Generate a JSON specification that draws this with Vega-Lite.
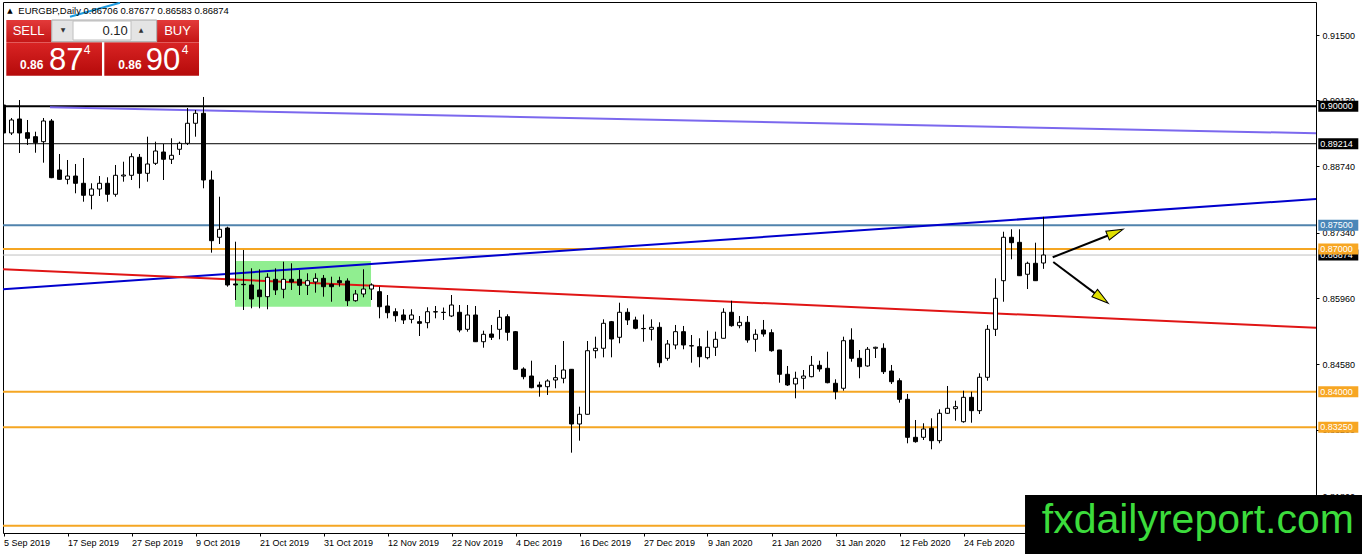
{
  "$schema": "https://vega.github.io/schema/vega-lite/v6.json",
  "width": 1313,
  "height": 531,
  "autosize": {"type": "none"},
  "padding": {"left": 3, "top": 2, "right": 46, "bottom": 21},
  "background": "white",
  "datasets": {
    "candles": [
      {"i":0,"o":0.90028,"h":0.90239,"l":0.89334,"c":0.89440},
      {"i":1,"o":0.89440,"h":0.89755,"l":0.89397,"c":0.89713},
      {"i":2,"o":0.89734,"h":0.90133,"l":0.89019,"c":0.89440},
      {"i":3,"o":0.89446,"h":0.89713,"l":0.89187,"c":0.89328},
      {"i":4,"o":0.89362,"h":0.89467,"l":0.89025,"c":0.89236},
      {"i":5,"o":0.89257,"h":0.89755,"l":0.88815,"c":0.89692},
      {"i":6,"o":0.89692,"h":0.89734,"l":0.88490,"c":0.88500},
      {"i":7,"o":0.88662,"h":0.88998,"l":0.88460,"c":0.88466},
      {"i":8,"o":0.88466,"h":0.88872,"l":0.88361,"c":0.88535},
      {"i":9,"o":0.88535,"h":0.88788,"l":0.88172,"c":0.88382},
      {"i":10,"o":0.88382,"h":0.88914,"l":0.87995,"c":0.88130},
      {"i":11,"o":0.88130,"h":0.88382,"l":0.87835,"c":0.88262},
      {"i":12,"o":0.88262,"h":0.88535,"l":0.88115,"c":0.88382},
      {"i":13,"o":0.88382,"h":0.88508,"l":0.87995,"c":0.88151},
      {"i":14,"o":0.88151,"h":0.88767,"l":0.88100,"c":0.88550},
      {"i":15,"o":0.88535,"h":0.88836,"l":0.88416,"c":0.88556},
      {"i":16,"o":0.88550,"h":0.89013,"l":0.88451,"c":0.88941},
      {"i":17,"o":0.88929,"h":0.88998,"l":0.88277,"c":0.88592},
      {"i":18,"o":0.88592,"h":0.89362,"l":0.88416,"c":0.88788},
      {"i":19,"o":0.88802,"h":0.89257,"l":0.88767,"c":0.89061},
      {"i":20,"o":0.89040,"h":0.89208,"l":0.88451,"c":0.88887},
      {"i":21,"o":0.88887,"h":0.89328,"l":0.88788,"c":0.88971},
      {"i":22,"o":0.89097,"h":0.89257,"l":0.88977,"c":0.89223},
      {"i":23,"o":0.89223,"h":0.89965,"l":0.89187,"c":0.89644},
      {"i":24,"o":0.89644,"h":0.89923,"l":0.89362,"c":0.89854},
      {"i":25,"o":0.89854,"h":0.90197,"l":0.88277,"c":0.88451},
      {"i":26,"o":0.88451,"h":0.88647,"l":0.86923,"c":0.87175},
      {"i":27,"o":0.87247,"h":0.88100,"l":0.87106,"c":0.87415},
      {"i":28,"o":0.87442,"h":0.87469,"l":0.86208,"c":0.86244},
      {"i":29,"o":0.86265,"h":0.87154,"l":0.85928,"c":0.86244},
      {"i":30,"o":0.86258,"h":0.86980,"l":0.85718,"c":0.86250},
      {"i":31,"o":0.86244,"h":0.86595,"l":0.85754,"c":0.85949},
      {"i":32,"o":0.86139,"h":0.86574,"l":0.85754,"c":0.85998},
      {"i":33,"o":0.85998,"h":0.86490,"l":0.85733,"c":0.86406},
      {"i":34,"o":0.86363,"h":0.86595,"l":0.86033,"c":0.86139},
      {"i":35,"o":0.86153,"h":0.86734,"l":0.85964,"c":0.86363},
      {"i":36,"o":0.86363,"h":0.86700,"l":0.86139,"c":0.86307},
      {"i":37,"o":0.86363,"h":0.86559,"l":0.86033,"c":0.86237},
      {"i":38,"o":0.86237,"h":0.86490,"l":0.86033,"c":0.86334},
      {"i":39,"o":0.86307,"h":0.86490,"l":0.86082,"c":0.86384},
      {"i":40,"o":0.86384,"h":0.86454,"l":0.85998,"c":0.86208},
      {"i":41,"o":0.86258,"h":0.86418,"l":0.85892,"c":0.86208},
      {"i":42,"o":0.86334,"h":0.86418,"l":0.86208,"c":0.86292},
      {"i":43,"o":0.86328,"h":0.86384,"l":0.85802,"c":0.85913},
      {"i":44,"o":0.85913,"h":0.86139,"l":0.85892,"c":0.86054},
      {"i":45,"o":0.86054,"h":0.86574,"l":0.85985,"c":0.86159},
      {"i":46,"o":0.86159,"h":0.86279,"l":0.85928,"c":0.86244},
      {"i":47,"o":0.86103,"h":0.86208,"l":0.85543,"c":0.85787},
      {"i":48,"o":0.85802,"h":0.86033,"l":0.85543,"c":0.85661},
      {"i":49,"o":0.85682,"h":0.85754,"l":0.85472,"c":0.85598},
      {"i":50,"o":0.85613,"h":0.85733,"l":0.85424,"c":0.85508},
      {"i":51,"o":0.85522,"h":0.85733,"l":0.85438,"c":0.85613},
      {"i":52,"o":0.85472,"h":0.85592,"l":0.85171,"c":0.85438},
      {"i":53,"o":0.85451,"h":0.85775,"l":0.85333,"c":0.85682},
      {"i":54,"o":0.85682,"h":0.85802,"l":0.85543,"c":0.85676},
      {"i":55,"o":0.85665,"h":0.85770,"l":0.85508,"c":0.85670},
      {"i":56,"o":0.85592,"h":0.86033,"l":0.85570,"c":0.85823},
      {"i":57,"o":0.85670,"h":0.85823,"l":0.85250,"c":0.85297},
      {"i":58,"o":0.85312,"h":0.85823,"l":0.85262,"c":0.85613},
      {"i":59,"o":0.85613,"h":0.85802,"l":0.85045,"c":0.85051},
      {"i":60,"o":0.85051,"h":0.85283,"l":0.84925,"c":0.85207},
      {"i":61,"o":0.85213,"h":0.85403,"l":0.85087,"c":0.85144},
      {"i":62,"o":0.85312,"h":0.85718,"l":0.85102,"c":0.85565},
      {"i":63,"o":0.85577,"h":0.85628,"l":0.85072,"c":0.85249},
      {"i":64,"o":0.85262,"h":0.85276,"l":0.84456,"c":0.84471},
      {"i":65,"o":0.84477,"h":0.84513,"l":0.84261,"c":0.84316},
      {"i":66,"o":0.84330,"h":0.84652,"l":0.84072,"c":0.84084},
      {"i":67,"o":0.84141,"h":0.84210,"l":0.83895,"c":0.84105},
      {"i":68,"o":0.84105,"h":0.84261,"l":0.83931,"c":0.84225},
      {"i":69,"o":0.84246,"h":0.84562,"l":0.84072,"c":0.84295},
      {"i":70,"o":0.84282,"h":0.85066,"l":0.84177,"c":0.84456},
      {"i":71,"o":0.84471,"h":0.84477,"l":0.82718,"c":0.83321},
      {"i":72,"o":0.83321,"h":0.83685,"l":0.82970,"c":0.83525},
      {"i":73,"o":0.83525,"h":0.85066,"l":0.83520,"c":0.84862},
      {"i":74,"o":0.84862,"h":0.85157,"l":0.84702,"c":0.84913},
      {"i":75,"o":0.84913,"h":0.85522,"l":0.84723,"c":0.85438},
      {"i":76,"o":0.85472,"h":0.85487,"l":0.84723,"c":0.85108},
      {"i":77,"o":0.85144,"h":0.85871,"l":0.85018,"c":0.85670},
      {"i":78,"o":0.85670,"h":0.85754,"l":0.85403,"c":0.85508},
      {"i":79,"o":0.85508,"h":0.85577,"l":0.85312,"c":0.85333},
      {"i":80,"o":0.85330,"h":0.85623,"l":0.85051,"c":0.85325},
      {"i":81,"o":0.85312,"h":0.85522,"l":0.85076,"c":0.85354},
      {"i":82,"o":0.85354,"h":0.85459,"l":0.84513,"c":0.84610},
      {"i":83,"o":0.84702,"h":0.85087,"l":0.84652,"c":0.85003},
      {"i":84,"o":0.84982,"h":0.85403,"l":0.84892,"c":0.85262},
      {"i":85,"o":0.85262,"h":0.85382,"l":0.84892,"c":0.84982},
      {"i":86,"o":0.84967,"h":0.85192,"l":0.84610,"c":0.84962},
      {"i":87,"o":0.84946,"h":0.85123,"l":0.84513,"c":0.84736},
      {"i":88,"o":0.84715,"h":0.85283,"l":0.84681,"c":0.84934},
      {"i":89,"o":0.84934,"h":0.85262,"l":0.84751,"c":0.85102},
      {"i":90,"o":0.85123,"h":0.85754,"l":0.85119,"c":0.85670},
      {"i":91,"o":0.85670,"h":0.85913,"l":0.85367,"c":0.85388},
      {"i":92,"o":0.85388,"h":0.85592,"l":0.85333,"c":0.85459},
      {"i":93,"o":0.85459,"h":0.85592,"l":0.85030,"c":0.85087},
      {"i":94,"o":0.85102,"h":0.85312,"l":0.84841,"c":0.85207},
      {"i":95,"o":0.85297,"h":0.85508,"l":0.85157,"c":0.85213},
      {"i":96,"o":0.85241,"h":0.85312,"l":0.84841,"c":0.84862},
      {"i":97,"o":0.84877,"h":0.84880,"l":0.84189,"c":0.84366},
      {"i":98,"o":0.84366,"h":0.84541,"l":0.84120,"c":0.84141},
      {"i":99,"o":0.84162,"h":0.84421,"l":0.83861,"c":0.84282},
      {"i":100,"o":0.84282,"h":0.84456,"l":0.84051,"c":0.84330},
      {"i":101,"o":0.84316,"h":0.84751,"l":0.84303,"c":0.84555},
      {"i":102,"o":0.84555,"h":0.84652,"l":0.84421,"c":0.84477},
      {"i":103,"o":0.84492,"h":0.84841,"l":0.84177,"c":0.84189},
      {"i":104,"o":0.84177,"h":0.84261,"l":0.83840,"c":0.84000},
      {"i":105,"o":0.84072,"h":0.85157,"l":0.84021,"c":0.85072},
      {"i":106,"o":0.85087,"h":0.85333,"l":0.84631,"c":0.84702},
      {"i":107,"o":0.84702,"h":0.84877,"l":0.84282,"c":0.84526},
      {"i":108,"o":0.84541,"h":0.84940,"l":0.84526,"c":0.84892},
      {"i":109,"o":0.84913,"h":0.84946,"l":0.84708,"c":0.84934},
      {"i":110,"o":0.84913,"h":0.85018,"l":0.84372,"c":0.84421},
      {"i":111,"o":0.84435,"h":0.84562,"l":0.84162,"c":0.84210},
      {"i":112,"o":0.84231,"h":0.84282,"l":0.83769,"c":0.83840},
      {"i":113,"o":0.83840,"h":0.83952,"l":0.82915,"c":0.83041},
      {"i":114,"o":0.83041,"h":0.83405,"l":0.82928,"c":0.82949},
      {"i":115,"o":0.83041,"h":0.83336,"l":0.82985,"c":0.83216},
      {"i":116,"o":0.83231,"h":0.83441,"l":0.82789,"c":0.82970},
      {"i":117,"o":0.82970,"h":0.83630,"l":0.82915,"c":0.83546},
      {"i":118,"o":0.83546,"h":0.84120,"l":0.83531,"c":0.83651},
      {"i":119,"o":0.83643,"h":0.83811,"l":0.83390,"c":0.83685},
      {"i":120,"o":0.83369,"h":0.84021,"l":0.83348,"c":0.83882},
      {"i":121,"o":0.83882,"h":0.84000,"l":0.83348,"c":0.83601},
      {"i":122,"o":0.83601,"h":0.84387,"l":0.83531,"c":0.84303},
      {"i":123,"o":0.84303,"h":0.85403,"l":0.84231,"c":0.85312},
      {"i":124,"o":0.85312,"h":0.86384,"l":0.85171,"c":0.85964},
      {"i":125,"o":0.86334,"h":0.87364,"l":0.85892,"c":0.87247},
      {"i":126,"o":0.87247,"h":0.87415,"l":0.86784,"c":0.87133},
      {"i":127,"o":0.87141,"h":0.87415,"l":0.86433,"c":0.86439},
      {"i":128,"o":0.86469,"h":0.86734,"l":0.86159,"c":0.86700},
      {"i":129,"o":0.86700,"h":0.87133,"l":0.86330,"c":0.86334},
      {"i":130,"o":0.86706,"h":0.87677,"l":0.86583,"c":0.86874}
    ],
    "levels": [
      {"p":0.90000,"g":"round"},
      {"p":0.89214,"g":"pivot"},
      {"p":0.87500,"g":"blue"},
      {"p":0.86874,"g":"bid"},
      {"p":0.87000,"g":"orange"},
      {"p":0.84000,"g":"orange"},
      {"p":0.83250,"g":"orange"},
      {"p":0.81180,"g":"orange"}
    ],
    "trend": [
      {"t":"blue","i":-0.0625,"p":0.86153},
      {"t":"blue","i":164.0625,"p":0.88052},
      {"t":"red","i":-0.0625,"p":0.86574},
      {"t":"red","i":164.0625,"p":0.85346},
      {"t":"purple","i":5.81,"p":0.89980},
      {"t":"purple","i":164.0625,"p":0.89433},
      {"t":"cyan","i":8.31,"p":0.91885},
      {"t":"cyan","i":14.56,"p":0.92179}
    ]
  },
  "layer": [
    {
      "data": {"values": [{}]},
      "mark": {"type": "rect", "color": "#90ee90"},
      "encoding": {
        "x": {"datum": 28.94, "type": "quantitative"},
        "x2": {"datum": 45.94},
        "y": {"datum": 0.86748, "type": "quantitative"},
        "y2": {"datum": 0.85787}
      }
    },
    {
      "data": {"name": "levels"},
      "encoding": {"y": {"field": "p", "type": "quantitative", "title": null}},
      "layer": [
        {"transform": [{"filter": "datum.g == 'round'"}], "mark": {"type": "rule", "color": "#000000", "strokeWidth": 2}},
        {"transform": [{"filter": "datum.g == 'pivot'"}], "mark": {"type": "rule", "color": "#000000", "strokeWidth": 1}},
        {"transform": [{"filter": "datum.g == 'blue'"}], "mark": {"type": "rule", "color": "#5083ad", "strokeWidth": 2}},
        {"transform": [{"filter": "datum.g == 'bid'"}], "mark": {"type": "rule", "color": "#c0c0c0", "strokeWidth": 1}},
        {"transform": [{"filter": "datum.g == 'orange'"}], "mark": {"type": "rule", "color": "#f5a623", "strokeWidth": 2}}
      ]
    },
    {
      "data": {"name": "trend"},
      "mark": {"type": "line", "strokeWidth": 2, "clip": true},
      "encoding": {
        "x": {"field": "i", "type": "quantitative", "title": null},
        "y": {"field": "p", "type": "quantitative", "title": null},
        "color": {"field": "t", "type": "nominal", "legend": null,
          "scale": {"domain": ["blue","red","purple","cyan"], "range": ["#0000cd","#e01515","#7b68ee","#1e9be0"]}}
      }
    },
    {
      "data": {"name": "candles"},
      "layer": [
        {
          "mark": {"type": "rule", "color": "black", "strokeWidth": 1, "clip": true},
          "encoding": {
            "x": {"field": "i", "type": "quantitative", "title": null,
              "scale": {"domain": [-0.0625, 164.0625], "nice": false, "zero": false, "padding": 0},
              "axis": {
                "values": [0,8,16,24,32,40,48,56,64,72,80,88,96,104,112,120],
                "labelExpr": "['5 Sep 2019','17 Sep 2019','27 Sep 2019','9 Oct 2019','21 Oct 2019','31 Oct 2019','12 Nov 2019','22 Nov 2019','4 Dec 2019','16 Dec 2019','27 Dec 2019','9 Jan 2020','21 Jan 2020','31 Jan 2020','12 Feb 2020','24 Feb 2020'][round(datum.value / 8)]",
                "labelAlign": "left", "labelBaseline": "top", "labelPadding": 2,
                "labelFlush": false, "labelOverlap": false, "title": null
              }},
            "y": {"field": "l", "type": "quantitative", "title": null,
              "scale": {"domain": [0.81029, 0.92194], "nice": false, "zero": false},
              "axis": {
                "orient": "right",
                "values": [0.915,0.9082,0.9013,0.8942,0.8874,0.8804,0.8734,0.8666,0.8596,0.8528,0.8458,0.8388,0.832,0.825,0.818],
                "format": ".5f", "labelPadding": 3, "labelBaseline": "middle",
                "labelFlush": false, "labelOverlap": false, "title": null
              }},
            "y2": {"field": "h"}
          }
        },
        {
          "mark": {"type": "bar", "size": 4, "stroke": "black", "strokeWidth": 1, "clip": true},
          "encoding": {
            "x": {"field": "i", "type": "quantitative", "title": null},
            "y": {"field": "o", "type": "quantitative", "title": null},
            "y2": {"field": "c"},
            "fill": {"condition": {"test": "datum.c >= datum.o", "value": "white"}, "value": "black"}
          }
        }
      ]
    },
    {
      "data": {"values": [{}]},
      "layer": [
        {
          "mark": {"type": "rule", "color": "black", "strokeWidth": 2},
          "encoding": {
            "x": {"datum": 131.15, "type": "quantitative"}, "x2": {"datum": 139.5},
            "y": {"datum": 0.86826, "type": "quantitative"}, "y2": {"datum": 0.87380}
          }
        },
        {
          "mark": {"type": "rule", "color": "black", "strokeWidth": 2},
          "encoding": {
            "x": {"datum": 131.22, "type": "quantitative"}, "x2": {"datum": 137.7},
            "y": {"datum": 0.86727, "type": "quantitative"}, "y2": {"datum": 0.85910}
          }
        },
        {
          "mark": {"type": "point", "shape": "M0,-1L0.55,1L-0.55,1Z", "size": 289, "angle": 68, "filled": true, "fill": "#e0e000", "stroke": "black", "strokeWidth": 1, "opacity": 1},
          "encoding": {
            "x": {"datum": 138.99, "type": "quantitative"},
            "y": {"datum": 0.87350, "type": "quantitative"}
          }
        },
        {
          "mark": {"type": "point", "shape": "M0,-1L0.55,1L-0.55,1Z", "size": 289, "angle": 127, "filled": true, "fill": "#e0e000", "stroke": "black", "strokeWidth": 1, "opacity": 1},
          "encoding": {
            "x": {"datum": 137.25, "type": "quantitative"},
            "y": {"datum": 0.85966, "type": "quantitative"}
          }
        }
      ]
    },
    {
      "data": {"values": [{}]},
      "layer": [
        {
          "mark": {"type": "text", "align": "center", "baseline": "alphabetic", "font": "DejaVu Sans", "fontSize": 7, "color": "black", "text": "▲"},
          "encoding": {"x": {"datum": 0.81, "type": "quantitative"}, "y": {"datum": 0.91963, "type": "quantitative"}}
        },
        {
          "mark": {"type": "text", "align": "left", "baseline": "alphabetic", "font": "Liberation Sans", "fontSize": 9.5, "color": "black", "text": "EURGBP,Daily 0.86706 0.87677 0.86583 0.86874"},
          "encoding": {"x": {"datum": 1.85, "type": "quantitative"}, "y": {"datum": 0.91942, "type": "quantitative"}}
        },
        {
          "mark": {"type": "rect", "color": {"gradient": "linear", "x1": 0, "y1": 0, "x2": 0, "y2": 1, "stops": [{"offset": 0, "color": "#e33a3a"}, {"offset": 1, "color": "#c41616"}]}},
          "encoding": {"x": {"datum": 0.35, "type": "quantitative"}, "x2": {"datum": 6.0}, "y": {"datum": 0.91815, "type": "quantitative"}, "y2": {"datum": 0.91353}}
        },
        {
          "mark": {"type": "rect", "color": {"gradient": "linear", "x1": 0, "y1": 0, "x2": 0, "y2": 1, "stops": [{"offset": 0, "color": "#e33a3a"}, {"offset": 1, "color": "#c41616"}]}},
          "encoding": {"x": {"datum": 19.15, "type": "quantitative"}, "x2": {"datum": 24.44}, "y": {"datum": 0.91815, "type": "quantitative"}, "y2": {"datum": 0.91353}}
        },
        {
          "mark": {"type": "rect", "color": {"gradient": "linear", "x1": 0, "y1": 0, "x2": 0, "y2": 1, "stops": [{"offset": 0, "color": "#d92424"}, {"offset": 1, "color": "#b50a0a"}]}},
          "encoding": {"x": {"datum": 0.35, "type": "quantitative"}, "x2": {"datum": 12.31}, "y": {"datum": 0.91347, "type": "quantitative"}, "y2": {"datum": 0.90644}}
        },
        {
          "mark": {"type": "rect", "color": {"gradient": "linear", "x1": 0, "y1": 0, "x2": 0, "y2": 1, "stops": [{"offset": 0, "color": "#d92424"}, {"offset": 1, "color": "#b50a0a"}]}},
          "encoding": {"x": {"datum": 12.6, "type": "quantitative"}, "x2": {"datum": 24.44}, "y": {"datum": 0.91347, "type": "quantitative"}, "y2": {"datum": 0.90644}}
        },
        {
          "mark": {"type": "rect", "fill": "#e4e4e4", "stroke": "#a8a8a8", "strokeWidth": 1},
          "encoding": {"x": {"datum": 6.03, "type": "quantitative"}, "x2": {"datum": 19.15}, "y": {"datum": 0.91815, "type": "quantitative"}, "y2": {"datum": 0.91359}}
        },
        {
          "mark": {"type": "rect", "fill": "white", "stroke": "#c0c0c0", "strokeWidth": 1},
          "encoding": {"x": {"datum": 8.69, "type": "quantitative"}, "x2": {"datum": 15.94}, "y": {"datum": 0.91794, "type": "quantitative"}, "y2": {"datum": 0.91395}}
        },
        {
          "mark": {"type": "text", "align": "center", "baseline": "middle", "font": "DejaVu Sans", "fontSize": 6, "color": "#333333", "text": "▼"},
          "encoding": {"x": {"datum": 7.44, "type": "quantitative"}, "y": {"datum": 0.91605, "type": "quantitative"}}
        },
        {
          "mark": {"type": "text", "align": "center", "baseline": "middle", "font": "DejaVu Sans", "fontSize": 6, "color": "#333333", "text": "▲"},
          "encoding": {"x": {"datum": 17.19, "type": "quantitative"}, "y": {"datum": 0.91605, "type": "quantitative"}}
        },
        {
          "mark": {"type": "text", "align": "right", "baseline": "middle", "font": "Liberation Sans", "fontSize": 13, "color": "#222222", "text": "0.10"},
          "encoding": {"x": {"datum": 15.53, "type": "quantitative"}, "y": {"datum": 0.91584, "type": "quantitative"}}
        },
        {
          "mark": {"type": "text", "align": "center", "baseline": "middle", "font": "Liberation Sans", "fontSize": 13, "color": "white", "text": "SELL"},
          "encoding": {"x": {"datum": 3.13, "type": "quantitative"}, "y": {"datum": 0.91574, "type": "quantitative"}}
        },
        {
          "mark": {"type": "text", "align": "center", "baseline": "middle", "font": "Liberation Sans", "fontSize": 13, "color": "white", "text": "BUY"},
          "encoding": {"x": {"datum": 21.75, "type": "quantitative"}, "y": {"datum": 0.91574, "type": "quantitative"}}
        },
        {
          "mark": {"type": "text", "align": "center", "baseline": "alphabetic", "font": "Liberation Sans", "fontSize": 12, "fontWeight": "bold", "color": "white", "text": "0.86"},
          "encoding": {"x": {"datum": 3.53, "type": "quantitative"}, "y": {"datum": 0.90785, "type": "quantitative"}}
        },
        {
          "mark": {"type": "text", "align": "center", "baseline": "alphabetic", "font": "Liberation Sans", "fontSize": 12, "fontWeight": "bold", "color": "white", "text": "0.86"},
          "encoding": {"x": {"datum": 15.81, "type": "quantitative"}, "y": {"datum": 0.90785, "type": "quantitative"}}
        },
        {
          "mark": {"type": "text", "align": "left", "baseline": "alphabetic", "font": "Liberation Sans", "fontSize": 31, "color": "white", "text": "87"},
          "encoding": {"x": {"datum": 5.69, "type": "quantitative"}, "y": {"datum": 0.90754, "type": "quantitative"}}
        },
        {
          "mark": {"type": "text", "align": "left", "baseline": "alphabetic", "font": "Liberation Sans", "fontSize": 31, "color": "white", "text": "90"},
          "encoding": {"x": {"datum": 17.78, "type": "quantitative"}, "y": {"datum": 0.90754, "type": "quantitative"}}
        },
        {
          "mark": {"type": "text", "align": "center", "baseline": "alphabetic", "font": "Liberation Sans", "fontSize": 12, "color": "white", "text": "4"},
          "encoding": {"x": {"datum": 10.44, "type": "quantitative"}, "y": {"datum": 0.91101, "type": "quantitative"}}
        },
        {
          "mark": {"type": "text", "align": "center", "baseline": "alphabetic", "font": "Liberation Sans", "fontSize": 12, "color": "white", "text": "4"},
          "encoding": {"x": {"datum": 22.69, "type": "quantitative"}, "y": {"datum": 0.91101, "type": "quantitative"}}
        }
      ]
    },
    {
      "data": {"name": "levels"},
      "transform": [{"filter": "datum.g == 'bid'"}],
      "layer": [
        {
          "mark": {"type": "rule", "strokeWidth": 11, "color": "black"},
          "encoding": {
            "x": {"datum": 164.35, "type": "quantitative"}, "x2": {"datum": 169.35},
            "y": {"field": "p", "type": "quantitative", "title": null}
          }
        },
        {
          "mark": {"type": "text", "align": "left", "baseline": "middle", "font": "Liberation Sans", "fontSize": 9, "color": "white"},
          "encoding": {
            "x": {"datum": 164.6, "type": "quantitative"},
            "y": {"field": "p", "type": "quantitative", "title": null},
            "text": {"field": "p", "type": "quantitative", "format": ".5f"}
          }
        }
      ]
    },
    {
      "data": {"name": "levels"},
      "transform": [{"filter": "datum.g != 'bid' && datum.p > 0.815"}],
      "mark": {"type": "rule", "strokeWidth": 11},
      "encoding": {
        "x": {"datum": 164.35, "type": "quantitative"}, "x2": {"datum": 169.35},
        "y": {"field": "p", "type": "quantitative", "title": null},
        "color": {"field": "g", "type": "nominal", "legend": null,
          "scale": {"domain": ["round","pivot","blue","orange"], "range": ["#000000","#000000","#4a86b8","#f7a623"]}}
      }
    },
    {
      "data": {"name": "levels"},
      "transform": [{"filter": "datum.g != 'bid' && datum.p > 0.815"}],
      "mark": {"type": "text", "align": "left", "baseline": "middle", "font": "Liberation Sans", "fontSize": 9, "color": "white"},
      "encoding": {
        "x": {"datum": 164.6, "type": "quantitative"},
        "y": {"field": "p", "type": "quantitative", "title": null},
        "text": {"field": "p", "type": "quantitative", "format": ".5f"}
      }
    },
    {
      "data": {"values": [{}]},
      "layer": [
        {
          "mark": {"type": "rect", "color": "black"},
          "encoding": {"x": {"datum": 127.69, "type": "quantitative"}, "x2": {"datum": 171}, "y": {"datum": 0.81828, "type": "quantitative"}, "y2": {"datum": 0.80}}
        },
        {
          "mark": {"type": "text", "align": "left", "baseline": "alphabetic", "font": "Liberation Sans", "fontSize": 41, "color": "#3cdc3c", "text": "fxdailyreport.com"},
          "encoding": {"x": {"datum": 129.78, "type": "quantitative"}, "y": {"datum": 0.81023, "type": "quantitative"}}
        }
      ]
    }
  ],
  "resolve": {"scale": {"color": "independent"}},
  "config": {
    "view": {"stroke": "black", "strokeWidth": 1},
    "font": "Liberation Sans",
    "axis": {
      "labelFont": "Liberation Sans", "labelFontSize": 9, "labelColor": "black",
      "tickColor": "black", "tickSize": 3, "domain": false, "grid": false
    }
  }
}
